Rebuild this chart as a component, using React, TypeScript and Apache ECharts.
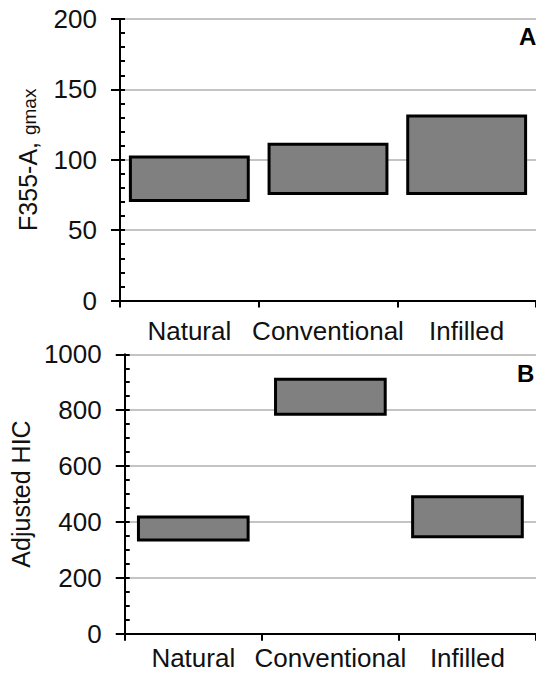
import React, { useEffect, useRef } from "react";
import * as echarts from "echarts";

const categories = ["Natural", "Conventional", "Infilled"];
const gmaxLow = [71, 76, 76];
const gmaxHigh = [102, 111, 131];
const hicLow = [335, 785, 347];
const hicHigh = [418, 911, 490];

const FONT = "Liberation Sans, Arial, sans-serif";

function floatingBars(low: number[], high: number[], xi: number, yi: number, ratio: number) {
  return {
    type: "custom",
    xAxisIndex: xi,
    yAxisIndex: yi,
    encode: { x: 0, y: [1, 2] },
    data: low.map((l, i) => [i, l, high[i]]),
    renderItem: (params: any, api: any) => {
      const x = api.value(0);
      const lo = api.coord([x, api.value(1)]);
      const hi = api.coord([x, api.value(2)]);
      const w = api.size([1, 0])[0] * ratio;
      return {
        type: "rect",
        shape: { x: lo[0] - w / 2, y: hi[1], width: w, height: lo[1] - hi[1] },
        style: { fill: "#808080", stroke: "#000", lineWidth: 3 },
      };
    },
  };
}

function catAxis(gridIndex: number, margin: number) {
  return {
    type: "category",
    gridIndex,
    data: categories,
    boundaryGap: true,
    axisLine: { show: true, lineStyle: { color: "#000", width: 2 } },
    axisTick: { show: true, length: 7, interval: 0, lineStyle: { color: "#000", width: 2 } },
    axisLabel: { interval: 0, margin, fontSize: 26, fontFamily: FONT, color: "#111" },
    splitLine: { show: false },
  };
}

function mainY(gridIndex: number, max: number, interval: number, name: string, rich: any, nameGap: number) {
  return {
    type: "value",
    gridIndex,
    min: 0,
    max,
    interval,
    position: "left",
    name,
    nameLocation: "middle",
    nameRotate: 90,
    nameGap,
    nameTextStyle: { fontSize: 25, fontFamily: FONT, color: "#111", rich },
    axisLine: { show: true, lineStyle: { color: "#000", width: 2 } },
    axisTick: { show: true, length: 9, inside: false, lineStyle: { color: "#000", width: 2 } },
    axisLabel: {
      margin: 23,
      fontSize: 26,
      fontFamily: FONT,
      color: "#111",
      formatter: (v: number) => String(v),
    },
    splitLine: { show: true, lineStyle: { color: "#c4c4c4", width: 2 } },
  };
}

function minorY(gridIndex: number, max: number, step: number) {
  return {
    type: "value",
    gridIndex,
    min: 0,
    max,
    interval: step,
    position: "left",
    axisLine: { show: false },
    axisTick: { show: true, inside: true, length: 5, lineStyle: { color: "#000", width: 2 } },
    axisLabel: { show: false },
    splitLine: { show: false },
  };
}

export default function App() {
  const ref = useRef<HTMLDivElement>(null);
  useEffect(() => {
    document.body.style.margin = "0";
    const chart = echarts.init(ref.current!, undefined, { renderer: "svg" });
    const richA = {
      a: { fontSize: 25, fontFamily: FONT, color: "#111" },
      b: { fontSize: 19, fontFamily: FONT, color: "#111", padding: [3, 0, 0, 0] },
    };
    chart.setOption({
      animation: false,
      backgroundColor: "#ffffff",
      grid: [
        { left: 120, top: 19, width: 420, height: 281.5 },
        { left: 122, top: 354.3, width: 420, height: 279.4 },
      ],
      xAxis: [catAxis(0, 17), catAxis(1, 11)],
      yAxis: [
        mainY(0, 200, 50, "{a|F355-A,} {b|gmax}", richA, 80),
        minorY(0, 200, 10),
        mainY(1, 1000, 200, "Adjusted HIC", undefined, 80),
        minorY(1, 1000, 50),
      ],
      series: [
        floatingBars(gmaxLow, gmaxHigh, 0, 0, 0.85),
        floatingBars(hicLow, hicHigh, 1, 2, 0.8),
      ],
      graphic: [
        {
          type: "text",
          x: 519,
          y: 24,
          style: { text: "A", fontSize: 24, fontWeight: "bold", fontFamily: FONT, fill: "#000" },
        },
        {
          type: "text",
          x: 517,
          y: 361,
          style: { text: "B", fontSize: 24, fontWeight: "bold", fontFamily: FONT, fill: "#000" },
        },
      ],
    });
    return () => chart.dispose();
  }, []);
  return <div ref={ref} style={{ width: 536, height: 673 }} />;
}
